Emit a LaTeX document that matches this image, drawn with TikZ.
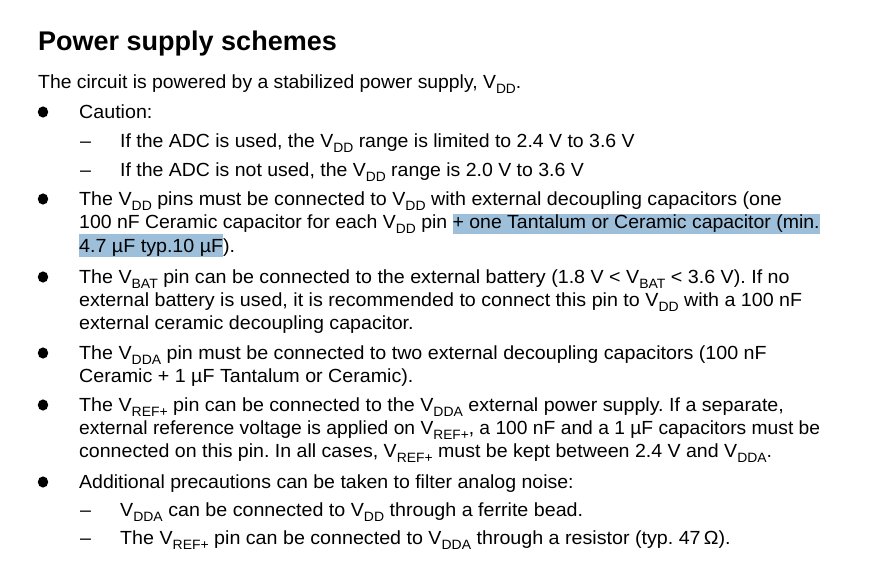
\documentclass[tikz,border=0pt]{standalone}
\usepackage{fontspec}
\usepackage{graphicx}
\setmainfont{Liberation Sans}
\newfontfamily\bodyfont[FakeStretch=1.035]{Liberation Sans}
\definecolor{hl}{RGB}{158,191,218}
\newcommand\sbs[1]{\raisebox{-5pt}{\fontsize{13.5pt}{14pt}\selectfont #1}}
\newcommand\hlbox[3]{{\setlength\fboxsep{0pt}\colorbox{hl}{\rule[-#2pt]{0pt}{#3pt}#1}}}
\newcommand\sx[2]{\scalebox{#1}[1]{#2}}
\tikzset{
  txt/.style={anchor=base west, inner sep=0pt, font=\bodyfont\fontsize{19pt}{23pt}\selectfont\frenchspacing},
  ttl/.style={anchor=base west, inner sep=0pt, font=\fontsize{27pt}{30pt}\selectfont\bfseries},
  bul/.style={fill=black},
}
\begin{document}
\begin{tikzpicture}[x=1pt,y=-1pt]
\fill[white] (0,0) rectangle (872,587);
\useasboundingbox (0,0) rectangle (872,587);
\node[ttl] (title) at (38,50) {Power supply schemes};
\node[txt] (intro) at (38,88) {\sx{0.984}{The circuit is powered by a stabilized power supply, V\sbs{DD}.}};
% bullets
\foreach \yy in {118,205,283,359,411,488}
  \fill[bul] (43,\yy-6) ellipse [x radius=5.2, y radius=5.6];
\node[txt] (c1) at (79,118) {Caution:};
\node[txt] (d1) at (80,147) {–};
\node[txt] (c2) at (120,147) {\sx{0.99}{If the ADC is used, the V\sbs{DD} range is limited to 2.4 V to 3.6 V}};
\node[txt] (d2) at (80,176) {–};
\node[txt] (c3) at (120,176) {\sx{0.99}{If the ADC is not used, the V\sbs{DD} range is 2.0 V to 3.6 V}};
\node[txt] (p1) at (79,205) {The V\sbs{DD} pins must be connected to V\sbs{DD} with external decoupling capacitors (one};
\node[txt] (p2) at (79,228) {\sx{0.989}{100 nF Ceramic capacitor for each V\sbs{DD} pin \hlbox{+ one Tantalum or Ceramic capacitor (min.}{6}{18}}};
\node[txt] (p3) at (79,252) {\hlbox{4.7 µF typ.10 µF}{5}{23}).};
\node[txt] (b1) at (79,283) {The V\sbs{BAT} pin can be connected to the external battery (1.8 V < V\sbs{BAT} < 3.6 V). If no};
\node[txt] (b2) at (79,306) {external battery is used, it is recommended to connect this pin to V\sbs{DD} with a 100 nF};
\node[txt] (b3) at (79,329) {external ceramic decoupling capacitor.};
\node[txt] (a1) at (79,359) {The V\sbs{DDA} pin must be connected to two external decoupling capacitors (100 nF};
\node[txt] (a2) at (79,382) {Ceramic + 1 µF Tantalum or Ceramic).};
\node[txt] (r1) at (79,411) {The V\sbs{REF+} pin can be connected to the V\sbs{DDA} external power supply. If a separate,};
\node[txt] (r2) at (79,434) {\sx{0.979}{external reference voltage is applied on V\sbs{REF+}, a 100 nF and a 1 µF capacitors must be}};
\node[txt] (r3) at (79,457) {\sx{0.995}{connected on this pin. In all cases, V\sbs{REF+} must be kept between 2.4 V and V\sbs{DDA}.}};
\node[txt] (n1) at (79,488) {\sx{0.992}{Additional precautions can be taken to filter analog noise:}};
\node[txt] (d3) at (80,516) {–};
\node[txt] (n2) at (120,516) {V\sbs{DDA} can be connected to V\sbs{DD} through a ferrite bead.};
\node[txt] (d4) at (80,544) {–};
\node[txt] (n3) at (120,544) {The V\sbs{REF+} pin can be connected to V\sbs{DDA} through a resistor (typ. 47\,Ω).};
\end{tikzpicture}
\end{document}
